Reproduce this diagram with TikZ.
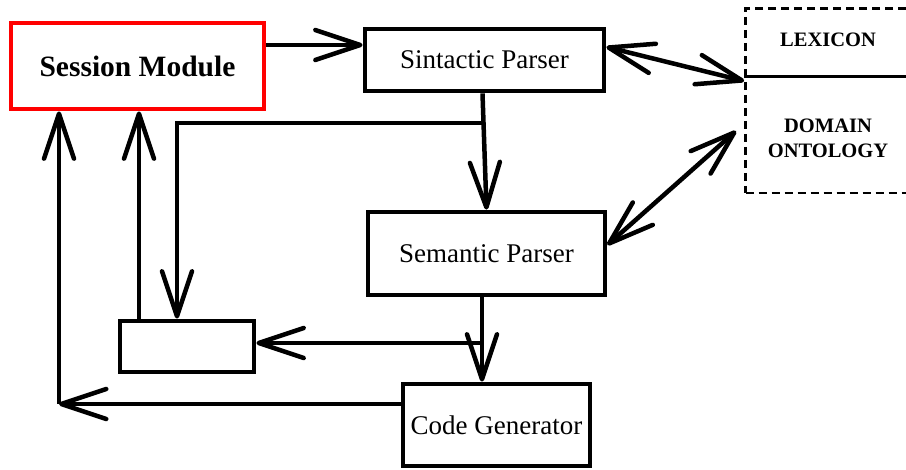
\documentclass[tikz,border=0pt]{standalone}
\usepackage{fontspec}
\setmainfont{Liberation Serif}
\usetikzlibrary{arrows.meta}
\begin{document}
\begin{tikzpicture}[x=1pt,y=-1pt,
  box/.style={draw, line width=4.8pt, rectangle, inner sep=0pt, font=\fontsize{27}{32}\selectfont},
  barb/.tip={Straight Barb[length=45pt,width=30pt,round]},
  arr/.style={line width=4.5pt, -barb},
  darr/.style={line width=4.5pt, barb-barb},
  lbl/.style={font=\bfseries\fontsize{20.5}{25}\selectfont, align=center, inner sep=0pt}
]
\useasboundingbox (0,0) rectangle (906,470);
\clip (0,0) rectangle (906,470);

\node[box, draw=red, minimum width=253pt, minimum height=86pt, font=\bfseries\fontsize{29.5}{34}\selectfont] (sm) at (137.5,66) {Session Module};
\node[box, minimum width=239pt, minimum height=62pt] (sp) at (484.5,60) {Sintactic Parser};
\node[box, minimum width=237pt, minimum height=83pt] (sem) at (486.5,253.5) {Semantic Parser};
\node[box, minimum width=187pt, minimum height=82pt] (cg) at (496.5,425) {Code Generator};
\node[box, minimum width=134pt, minimum height=51pt] (sb) at (187,346.5) {};
\node[draw, dash pattern=on 8pt off 5pt, line width=2.7pt, minimum width=170pt, minimum height=184.5pt, inner sep=0pt] (db) at (830.5,100.75) {};
\draw[line width=3pt] (db.west |- 0,77) -- (db.east |- 0,77);
\node[lbl] (lex) at (828,40) {LEXICON};
\node[lbl] (dom) at (828,138) {DOMAIN\\ONTOLOGY};

\coordinate (j1) at (483,123);
\coordinate (j2) at (482,343);
\coordinate (c1) at (59,404);
\coordinate (d2) at (736,131);

\draw[arr] (sm.east |- 0,45) -- (sp.west |- 0,45);
\draw[darr] (sp.east |- 0,47) -- (db.west |- 0,81);
\draw[darr] (d2) -- (sem.east |- 0,245);
\draw[arr] ([xshift=-2pt]sp.south) -- (sem.north);
\draw[arr] (j1) -| ([xshift=-10pt]sb.north);
\draw[arr] (139,0 |- sb.north) -- (139,0 |- sm.south);
\draw[arr] (482,0 |- sem.south) -- (482,0 |- cg.north);
\draw[arr] (j2) -- (sb.east |- j2);
\draw[arr] (cg.west |- c1) -- (c1);
\draw[arr] (c1) -- (c1 |- sm.south);
\end{tikzpicture}
\end{document}
